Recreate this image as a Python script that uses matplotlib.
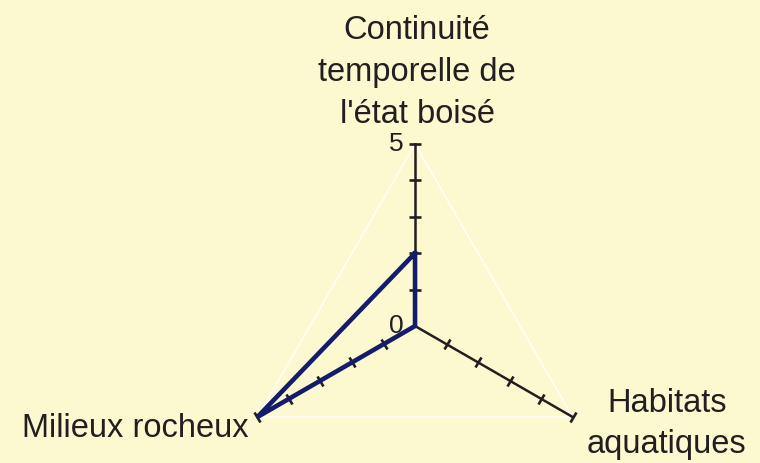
import numpy as np
import matplotlib
matplotlib.use("Agg")
import matplotlib.pyplot as plt
from matplotlib.markers import MarkerStyle
from matplotlib.transforms import Affine2D

plt.rcParams['font.family'] = ['Liberation Sans', 'DejaVu Sans']

categories = ["Continuité\ntemporelle de\nl'état boisé", "Habitats\naquatiques", "Milieux rocheux"]
values = [2, 0, 5]
angles_deg = [90, -30, 210]
r_max = 5
ticks = [1, 2, 3, 4, 5]
tick_labels = {5: "5", 0: "0"}

bg = '#FCF9D1'
navy = '#141C6B'
dark = '#231F20'

fig = plt.figure(figsize=(7.6, 4.64), dpi=100, facecolor=bg)
ax = fig.add_axes([0.3066, -0.0970, 0.479, 0.7845], projection='polar')
ax.set_facecolor(bg)
ax.patch.set_alpha(0)
ax.grid(False)
ax.set_xticks([])
ax.set_yticks([])
ax.spines['polar'].set_visible(False)
ax.set_ylim(0, r_max)

theta = np.radians(angles_deg)

# outer grid triangle
ax.plot(np.append(theta, theta[0]), [r_max] * 4, color='white', lw=1.0,
        clip_on=False, zorder=1)

# spokes with tick marks
for a_deg, a in zip(angles_deg, theta):
    ax.plot([a, a], [0, r_max], color=dark, lw=1.8, clip_on=False, zorder=2)
    m = MarkerStyle('_', transform=Affine2D().rotate_deg(a_deg - 90))
    ax.plot([a] * len(ticks), ticks, linestyle='none', marker=m, ms=8,
            mew=1.9, color=dark, clip_on=False, zorder=2)

# data line
ax.plot(np.append(theta, theta[0]), values + values[:1], color=navy, lw=3.3,
        solid_joinstyle='miter', clip_on=False, zorder=3)

# category labels
fs = 23.5
ax.annotate(categories[0], xy=(theta[0], r_max), xytext=(2, 15),
            textcoords='offset pixels', ha='center', va='bottom',
            fontsize=fs, color=dark, linespacing=1.45, annotation_clip=False)
ax.annotate(categories[1], xy=(theta[1], r_max), xytext=(94, 30),
            textcoords='offset pixels', ha='center', va='top',
            fontsize=fs, color=dark, linespacing=1.4, annotation_clip=False)
ax.annotate(categories[2], xy=(theta[2], r_max), xytext=(-9, -19),
            textcoords='offset pixels', ha='right', va='baseline',
            fontsize=fs, color=dark, annotation_clip=False)

# scale labels on top spoke
for r, lab in tick_labels.items():
    ax.annotate(lab, xy=(theta[0], r), xytext=(-11, 1),
                textcoords='offset pixels', ha='right', va='center',
                fontsize=19, color=dark, annotation_clip=False)

fig.savefig('out.png', dpi=100, facecolor=bg)
